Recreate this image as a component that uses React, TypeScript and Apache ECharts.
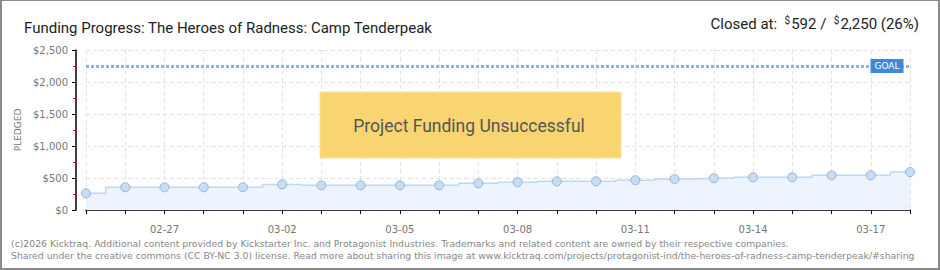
import React, { useEffect, useRef } from "react";
import * as echarts from "echarts";

const dates = [
  "02-25", "02-26", "02-27", "02-28", "03-01", "03-02", "03-03", "03-04",
  "03-05", "03-06", "03-07", "03-08", "03-09", "03-10", "03-11", "03-12",
  "03-13", "03-14", "03-15", "03-16", "03-17", "03-18",
];
const pledged = [
  260, 355, 355, 355, 355, 400, 385, 385, 385, 385, 417, 433, 448, 448,
  466, 484, 495, 510, 510, 542, 542, 592,
];
const goal = 2250;
const yTicks = { min: 0, max: 2500, interval: 500 };

const titleText = "Funding Progress: The Heroes of Radness: Camp Tenderpeak";
const footer1 =
  "(c)2026 Kicktraq. Additional content provided by Kickstarter Inc. and Protagonist Industries. Trademarks and related content are owned by their respective companies.";
const footer2 =
  "Shared under the creative commons (CC BY-NC 3.0) license. Read more about sharing this image at www.kicktraq.com/projects/protagonist-ind/the-heroes-of-radness-camp-tenderpeak/#sharing";

const fmt = (v: number) => "$" + v.toLocaleString("en-US");

export default function App() {
  const ref = useRef<HTMLDivElement>(null);
  useEffect(() => {
    if (!ref.current) return;
    const chart = echarts.init(ref.current, null, { renderer: "svg" });
    const titleFont = "Roboto, sans-serif";
    chart.setOption({
      animation: false,
      backgroundColor: "#ffffff",
      grid: { left: 86, right: 30, top: 50, bottom: 60 },
      xAxis: {
        type: "category",
        data: dates,
        boundaryGap: false,
        offset: 10,
        axisLine: { lineStyle: { color: "#000", width: 1.5 } },
        axisTick: { interval: 0, length: 4, lineStyle: { color: "#000" } },
        axisLabel: {
          interval: (i: number) => i % 3 === 2,
          color: "#777",
          fontSize: 10,
          fontFamily: "DejaVu Sans",
          margin: 4,
        },
        splitLine: {
          show: true,
          interval: 0,
          lineStyle: { color: "#e3e3e3", type: [4, 3] },
        },
      },
      yAxis: {
        type: "value",
        min: yTicks.min,
        max: yTicks.max,
        interval: yTicks.interval,
        offset: 10,
        name: "PLEDGED",
        nameLocation: "middle",
        nameRotate: 90,
        nameGap: 52,
        nameTextStyle: { color: "#777", fontSize: 9, fontFamily: "DejaVu Sans" },
        axisLine: { show: true, lineStyle: { color: "#000", width: 1.5 } },
        axisTick: { show: true, length: 4, lineStyle: { color: "#000" } },
        minorTick: { show: true, splitNumber: 2, length: 3, lineStyle: { color: "#e00000" } },
        axisLabel: {
          formatter: (v: number) => fmt(v),
          color: "#777",
          fontSize: 10,
          fontFamily: "DejaVu Sans",
          margin: 8,
        },
        splitLine: { lineStyle: { color: "#e3e3e3", type: [4, 3] } },
      },
      title: [
        {
          text: titleText,
          left: 19,
          top: 15,
          textStyle: { color: "#222", fontSize: 15, fontWeight: "normal", fontFamily: titleFont },
        },
      ],
      graphic: [
        {
          type: "text",
          right: 21,
          top: 15,
          style: {
            text: "{n|Closed at:  }{s|$}{n|592 /  }{s|$}{n|2,250 (26%)}",
            rich: {
              n: { fontSize: 15, fill: "#222", fontFamily: titleFont, verticalAlign: "bottom" },
              s: { fontSize: 10, fill: "#222", fontFamily: titleFont, verticalAlign: "top", padding: [0, 1, 6, 0] },
            },
          },
        },
        {
          type: "rect",
          shape: { x: 320, y: 92, width: 301, height: 66 },
          style: { fill: "#f8d571", stroke: "#fbe39a", lineWidth: 1 },
          z: 10,
        },
        {
          type: "text",
          x: 469,
          y: 126,
          z: 11,
          style: {
            text: "Project Funding Unsuccessful",
            fill: "#555",
            fontSize: 17.5,
            fontFamily: titleFont,
            align: "center",
            verticalAlign: "middle",
            textShadowColor: "#ffffff",
            textShadowOffsetX: 1,
            textShadowOffsetY: 1,
            textShadowBlur: 0,
          },
        },
        {
          type: "text",
          x: 11,
          y: 243,
          style: { text: footer1, fill: "#888", fontSize: 9.3, fontFamily: "DejaVu Sans", verticalAlign: "middle" },
        },
        {
          type: "text",
          x: 11,
          y: 255,
          style: { text: footer2, fill: "#888", fontSize: 9.3, fontFamily: "DejaVu Sans", verticalAlign: "middle" },
        },
      ],
      series: [
        {
          type: "line",
          data: pledged,
          step: "middle",
          symbol: "circle",
          symbolSize: 9,
          itemStyle: { color: "#c6ddf6", borderColor: "#98b3d3", borderWidth: 1 },
          lineStyle: { color: "#bcd8f5", width: 1.5 },
          areaStyle: { color: "#edf4fd", opacity: 1 },
          markLine: {
            silent: true,
            symbol: "none",
            label: { show: false },
            lineStyle: { color: "#86b5e6", width: 3, type: [3, 2] },
            data: [{ yAxis: goal }],
          },
          markPoint: {
            silent: true,
            symbol: "rect",
            symbolSize: [33, 14],
            symbolOffset: [-23, 0],
            itemStyle: { color: "#3d89d8" },
            label: {
              show: true,
              position: "inside",
              formatter: "GOAL",
              color: "#fff",
              fontSize: 9,
              fontFamily: "DejaVu Sans",
            },
            data: [{ coord: [dates.length - 1, goal] }],
          },
        },
      ],
    });
    return () => chart.dispose();
  }, []);
  return (
    <div style={{ position: "fixed", left: 0, top: 0, width: 940, height: 270 }}>
      <div ref={ref} style={{ width: 940, height: 270 }} />
      <div
        style={{
          position: "absolute",
          left: 0,
          top: 0,
          width: 940,
          height: 270,
          boxSizing: "border-box",
          borderTop: "1px solid #8a8a8a",
          borderLeft: "2px solid #8a8a8a",
          borderRight: "2px solid #8a8a8a",
          borderBottom: "2px solid #8a8a8a",
          pointerEvents: "none",
        }}
      />
    </div>
  );
}
